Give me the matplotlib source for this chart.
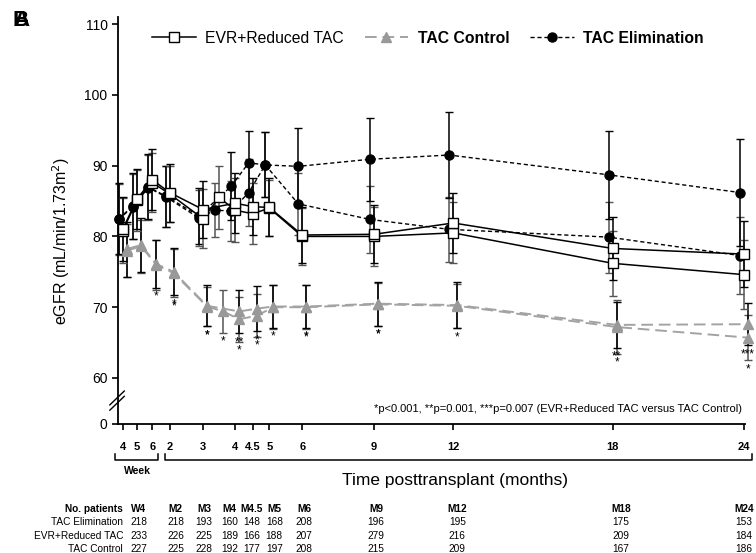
import numpy as np
import matplotlib.pyplot as plt
from matplotlib.lines import Line2D
from matplotlib.transforms import offset_copy, blended_transform_factory

plt.rcParams['font.family'] = ['Liberation Sans', 'DejaVu Sans']

# visit -> months posttransplant
month_of = {'W4': 0.92, 'W5': 1.15, 'W6': 1.38, 'M2': 2, 'M3': 3, 'M3.5': 3.5,
            'M4': 4, 'M4.5': 4.5, 'M5': 5, 'M6': 6, 'M9': 9, 'M12': 12, 'M18': 18, 'M24': 24}

# two overlaid panels (A and B)
visits_a = ['W4', 'W5', 'W6', 'M2', 'M3', 'M4', 'M4.5', 'M5', 'M6', 'M9', 'M12', 'M18', 'M24']
visits_b = ['W4', 'W5', 'W6', 'M2', 'M3', 'M3.5', 'M4', 'M4.5', 'M5', 'M6', 'M9', 'M12', 'M18', 'M24']

# EVR+Reduced TAC
evr_a = [81.0, 85.3, 88.0, 86.2, 83.8, 84.7, 84.2, 84.1, 80.2, 80.3, 81.9, 78.3, 77.5]
evr_a_err = [4.5, 4.2, 4.3, 4.1, 4.0, 4.2, 4.0, 4.1, 3.9, 4.1, 4.2, 4.4, 4.7]
evr_b = [80.8, 85.1, 87.6, 86.0, 82.5, 85.5, 83.7, 83.2, 84.0, 80.0, 80.0, 80.5, 76.2, 74.6]
evr_b_err = [4.6, 4.3, 4.2, 4.0, 4.2, 4.5, 4.5, 4.3, 4.0, 4.0, 4.2, 4.3, 4.6, 4.9]

# TAC Elimination
elim_a = [82.5, 84.3, 87.0, 85.7, 82.9, 87.1, 90.4, 90.1, 89.9, 90.9, 91.5, 88.7, 86.2]
elim_a_err = [5.0, 4.6, 4.6, 4.3, 4.0, 4.8, 4.5, 4.6, 5.4, 5.9, 6.1, 6.2, 7.5]
elim_b = [82.4, 84.2, 86.9, 85.6, 82.6, 83.7, 83.6, 86.2, 90.1, 84.6, 82.4, 81.0, 79.9, 77.3]
elim_b_err = [5.0, 4.6, 4.6, 4.3, 4.0, 3.8, 4.3, 4.7, 4.6, 4.4, 4.7, 4.6, 5.0, 5.5]

# TAC Control
ctrl_a = [78.2, 78.8, 76.1, 75.0, 70.2, 69.4, 69.8, 70.1, 70.1, 70.5, 70.3, 67.5, 67.6]
ctrl_a_err = [3.9, 3.8, 3.4, 3.3, 2.9, 3.1, 3.2, 3.0, 3.0, 3.1, 3.3, 3.2, 3.0]
ctrl_a_sig = ['', '', '*', '*', '*', '**', '*', '*', '*', '*', '*', '**', '***']
ctrl_b = [78.0, 78.6, 76.0, 74.8, 70.1, 69.4, 68.3, 68.8, 70.0, 70.0, 70.4, 70.2, 67.2, 65.7]
ctrl_b_err = [3.8, 3.7, 3.5, 3.4, 2.8, 3.0, 3.2, 3.0, 3.1, 3.1, 3.0, 3.1, 3.8, 3.2]
ctrl_b_sig = ['', '', '', '*', '*', '*', '*', '*', '', '*', '*', '', '*', '*']

# x tick labels
tick_visits = ['W4', 'W5', 'W6', 'M2', 'M3', 'M4', 'M4.5', 'M5', 'M6', 'M9', 'M12', 'M18', 'M24']
tick_labels = ['4', '5', '6', '2', '3', '4', '4.5', '5', '6', '9', '12', '18', '24']

# patients table
table_visits = ['W4', 'M2', 'M3', 'M4', 'M4.5', 'M5', 'M6', 'M9', 'M12', 'M18', 'M24']
n_elim = [218, 218, 193, 160, 148, 168, 208, 196, 195, 175, 153]
n_evr = [233, 226, 225, 189, 166, 188, 207, 279, 216, 209, 184]
n_ctrl = [227, 225, 228, 192, 177, 197, 208, 215, 209, 167, 186]
# small horizontal nudges of table columns (pixels)
col_nudge = [16, 6, 1, -6, -1, 5, 2, 2, 4, 8, 0]

# uneven time axis (piecewise linear)
brk_m = [0.5, 0.92, 1.15, 1.38, 2, 3, 4, 4.5, 5, 6, 9, 12, 18, 24, 25]
brk_u = [113, 122.7, 137, 152.3, 169.7, 203, 235.3, 252.7, 269.3, 302.3, 374, 453.3, 612.7, 744, 766]


def fwd(x):
    return np.interp(x, brk_m, brk_u)


def inv(u):
    return np.interp(u, brk_u, brk_m)


fig = plt.figure(figsize=(7.56, 5.53), dpi=100)
ax = fig.add_axes([118 / 756, 1 - 424 / 553, (745 - 118) / 756, (424 - 17) / 553])
ax.set_xscale('function', functions=(fwd, inv))


def draw(vis, vals, errs, dx, ecol, sig=None, **style):
    x = [month_of[v] for v in vis]
    tr = offset_copy(ax.transData, fig=fig, x=dx, y=0, units='points')
    ax.errorbar(x, vals, yerr=errs, transform=tr, capsize=3, capthick=1, elinewidth=1.1,
                ecolor=ecol, clip_on=False, **style)
    if sig:
        for xi, v, e, s in zip(x, vals, errs, sig):
            if s:
                ax.annotate(s, (xi, v - e), xytext=(dx, -2), textcoords='offset points',
                            ha='center', va='top', fontsize=8.5, color='black')


evr_style = dict(color='black', lw=1.1, ls='-', marker='s', ms=7, mfc='white', mec='black', mew=1)
elim_style = dict(color='black', lw=1.0, ls=(0, (3, 2)), marker='o', ms=6.5, mfc='black', mec='black')
ctrl_style = dict(color='#a3a3a3', lw=1.4, ls=(0, (6, 3)), marker='^', ms=7.5, mfc='#999999', mec='#999999')

draw(visits_b, ctrl_b, ctrl_b_err, 2.9, '#555555', ctrl_b_sig, **ctrl_style)
draw(visits_a, ctrl_a, ctrl_a_err, 2.9, 'black', ctrl_a_sig, **ctrl_style)
draw(visits_b, elim_b, elim_b_err, -2.9, '#555555', **elim_style)
draw(visits_a, elim_a, elim_a_err, -2.9, 'black', **elim_style)
draw(visits_b, evr_b, evr_b_err, 0, '#555555', **evr_style)
draw(visits_a, evr_a, evr_a_err, 0, 'black', **evr_style)

ax.set_xlim(inv(118), inv(745))
ax.set_ylim(53.5, 111)
ax.set_yticks([53.5, 60, 70, 80, 90, 100, 110])
ax.set_yticklabels(['0', '60', '70', '80', '90', '100', '110'], fontsize=10)
ax.set_xticks([month_of[v] for v in tick_visits])
ax.set_xticklabels(tick_labels, fontsize=8, fontweight='bold')
ax.xaxis.set_minor_locator(plt.NullLocator())
ax.tick_params(axis='both', direction='out', length=4, width=1.2)
ax.tick_params(axis='x', pad=9)
for s in ['top', 'right']:
    ax.spines[s].set_visible(False)
for s in ['left', 'bottom']:
    ax.spines[s].set_linewidth(1.3)
ax.set_ylabel('eGFR (mL/min/1.73m$^2$)', fontsize=11.5)
ax.yaxis.set_label_coords(-0.074, 0.45)

# axis break marks
for off in [0, 0.013]:
    ax.plot([-0.013, 0.010], [0.034 + off, 0.068 + off], transform=ax.transAxes,
            color='black', lw=1, clip_on=False)

# brackets under x axis
bt = blended_transform_factory(ax.transData, ax.transAxes)
for x0, x1 in [(0.587, 1.583), (1.83, 24.36)]:
    ax.plot([x0, x0, x1, x1], [-0.074, -0.088, -0.088, -0.074], transform=bt,
            color='black', lw=1.1, clip_on=False)
ax.text(month_of['W5'], -0.102, 'Week', transform=bt, ha='center', va='top',
        fontsize=7.5, fontweight='bold')
fig.text(455 / 756, 1 - 481 / 553, 'Time posttransplant (months)', ha='center', va='center',
         fontsize=12.5)

# footnote
fig.text(742 / 756, 1 - 409 / 553,
         '*p<0.001, **p=0.001, ***p=0.007 (EVR+Reduced TAC versus TAC Control)',
         ha='right', va='center', fontsize=8)

# panel letters (overlaid)
fig.text(12 / 756, 1 - 21 / 553, 'B', fontsize=16, fontweight='bold', ha='left', va='center')
fig.text(13 / 756, 1 - 21 / 553, 'A', fontsize=16, fontweight='bold', ha='left', va='center')

# legend
handles = [Line2D([], [], **evr_style), Line2D([], [], **ctrl_style), Line2D([], [], **elim_style)]
labels = ['EVR+Reduced TAC', 'TAC Control', 'TAC Elimination']
leg = fig.legend(handles, labels, loc='center', bbox_to_anchor=(428 / 756, 1 - 38 / 553), ncol=3,
                 frameon=False, fontsize=11.3, handlelength=2.8, columnspacing=1.3, handletextpad=0.6)
leg.get_texts()[1].set_fontweight('bold')
leg.get_texts()[2].set_fontweight('bold')

# patients table
tt = blended_transform_factory(ax.transData, fig.transFigure)
row_y = [1 - 509 / 553, 1 - 522 / 553, 1 - 536 / 553, 1 - 549 / 553]
lx = 123 / 756
fs = 7.3
fig.text(lx, row_y[0], 'No. patients', ha='right', va='center', fontsize=fs, fontweight='bold')
fig.text(lx, row_y[1], 'TAC Elimination', ha='right', va='center', fontsize=fs)
fig.text(lx, row_y[2], 'EVR+Reduced TAC', ha='right', va='center', fontsize=fs)
fig.text(lx, row_y[3], 'TAC Control', ha='right', va='center', fontsize=fs)
for i, v in enumerate(table_visits):
    xv = inv(fwd(month_of[v]) + col_nudge[i])
    ax.text(xv, row_y[0], v, transform=tt, ha='center', va='center', fontsize=fs, fontweight='bold')
    ax.text(xv, row_y[1], str(n_elim[i]), transform=tt, ha='center', va='center', fontsize=fs)
    ax.text(xv, row_y[2], str(n_evr[i]), transform=tt, ha='center', va='center', fontsize=fs)
    ax.text(xv, row_y[3], str(n_ctrl[i]), transform=tt, ha='center', va='center', fontsize=fs)

fig.savefig('out.png', dpi=100)
